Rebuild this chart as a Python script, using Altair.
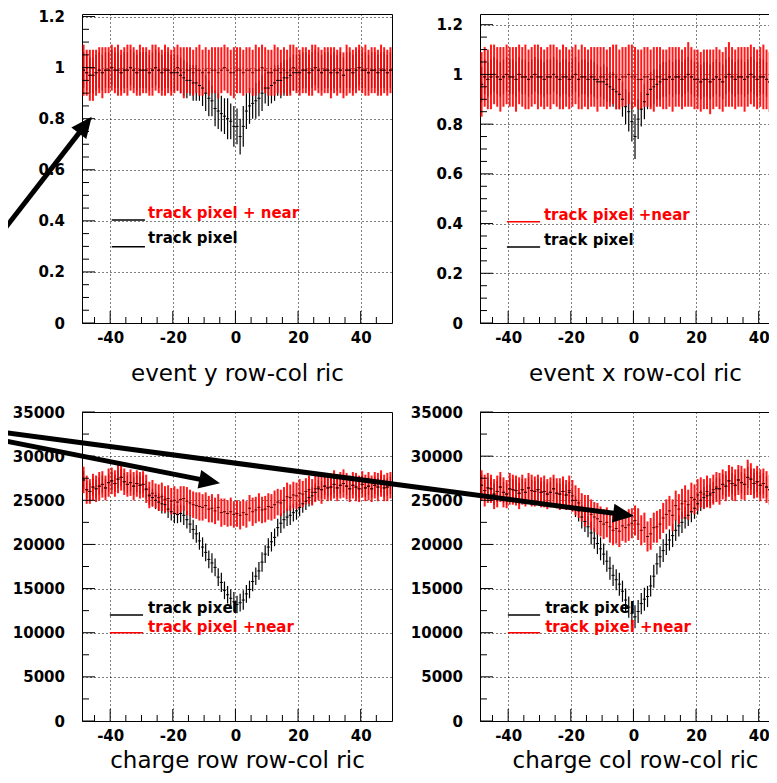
import math
import altair as alt
import pandas as pd

FONT = "DejaVu Sans"
RED = "#ff0000"
RED_TICK = "#5a0000"
BLACK = "#000000"

# ---------------- binning ----------------
X_DOMAIN = [-49, 50]
N_BINS = 99
X_CENTERS = [X_DOMAIN[0] + 0.5 + i for i in range(N_BINS)]

# ---------------- panel text / axes ----------------
TITLES = ["event y row-col ric", "event x row-col ric",
          "charge row row-col ric", "charge col row-col ric"]
Y_MAX = [1.21, 1.243, 35000, 35000]
Y_LABELS_EFF = [0, 0.2, 0.4, 0.6, 0.8, 1, 1.2]
Y_MINOR_EFF = [0.05, 0.1, 0.15, 0.25, 0.3, 0.35, 0.45, 0.5, 0.55, 0.65, 0.7,
               0.75, 0.85, 0.9, 0.95, 1.05, 1.1, 1.15]
Y_LABELS_CHG = [0, 5000, 10000, 15000, 20000, 25000, 30000, 35000]
Y_MINOR_CHG = [2500, 7500, 12500, 17500, 22500, 27500, 32500]
X_MAJOR = [-40, -20, 0, 20, 40]
X_MINOR = [-45, -35, -30, -25, -15, -10, -5, 5, 10, 15, 25, 30, 35, 45]

# ---------------- data: event y (top left) ----------------
TL_RED = [
    0.99, 0.98, 0.97, 0.97, 0.98, 0.99, 0.98, 0.99, 0.99, 1.00,
    0.99, 0.99, 0.98, 0.99, 0.99, 1.00, 0.99, 0.98, 0.99, 0.99,
    0.99, 0.98, 0.99, 1.00, 0.99, 0.98, 0.99, 0.99, 0.98, 0.99,
    1.00, 0.99, 0.98, 0.99, 0.99, 0.98, 0.99, 0.99, 0.98, 0.99,
    0.98, 0.99, 0.99, 0.98, 0.99, 1.00, 0.99, 0.98, 0.98, 0.99,
    0.99, 0.98, 0.99, 0.99, 0.98, 0.99, 0.99, 1.00, 0.99, 0.98,
    0.98, 0.99, 0.99, 0.98, 0.99, 0.98, 0.99, 1.00, 0.99, 0.98,
    0.99, 0.99, 0.98, 0.99, 1.00, 0.99, 0.98, 0.99, 0.99, 0.98,
    0.99, 0.98, 0.99, 0.97, 0.99, 0.99, 0.98, 0.99, 1.00, 0.99,
    0.99, 0.98, 0.99, 0.99, 0.98, 0.99, 0.99, 0.98, 0.99]
TL_RED_ERR = [
    0.10, 0.09, 0.10, 0.10, 0.09, 0.09, 0.10, 0.09, 0.09, 0.09,
    0.09, 0.10, 0.09, 0.09, 0.10, 0.09, 0.09, 0.09, 0.10, 0.09,
    0.09, 0.09, 0.10, 0.09, 0.09, 0.09, 0.10, 0.09, 0.09, 0.09,
    0.09, 0.09, 0.10, 0.09, 0.09, 0.09, 0.09, 0.10, 0.09, 0.09,
    0.09, 0.09, 0.09, 0.10, 0.09, 0.09, 0.09, 0.09, 0.10, 0.09,
    0.09, 0.09, 0.09, 0.09, 0.09, 0.10, 0.09, 0.09, 0.09, 0.09,
    0.09, 0.10, 0.09, 0.09, 0.09, 0.09, 0.10, 0.09, 0.09, 0.09,
    0.09, 0.09, 0.09, 0.10, 0.09, 0.09, 0.09, 0.09, 0.09, 0.10,
    0.09, 0.09, 0.09, 0.09, 0.10, 0.09, 0.09, 0.09, 0.09, 0.09,
    0.10, 0.09, 0.09, 0.09, 0.09, 0.10, 0.09, 0.09, 0.09]
TL_BLACK = [
    0.99, 0.98, 0.97, 0.97, 0.98, 0.99, 0.98, 0.99, 0.99, 1.00,
    0.99, 0.99, 0.98, 0.99, 0.99, 1.00, 0.99, 0.98, 0.99, 0.99,
    0.99, 0.98, 0.99, 1.00, 0.99, 0.98, 0.99, 0.99, 0.98, 0.98,
    0.98, 0.97, 0.96, 0.95, 0.95, 0.94, 0.94, 0.93, 0.92, 0.90,
    0.88, 0.87, 0.84, 0.83, 0.82, 0.81, 0.80, 0.79, 0.77, 0.77,
    0.73, 0.77, 0.83, 0.85, 0.86, 0.87, 0.88, 0.90, 0.92, 0.92,
    0.93, 0.94, 0.95, 0.95, 0.96, 0.96, 0.97, 0.98, 0.98, 0.98,
    0.99, 0.99, 0.98, 0.99, 1.00, 0.99, 0.98, 0.99, 0.99, 0.98,
    0.99, 0.98, 0.99, 0.97, 0.99, 0.99, 0.98, 0.99, 1.00, 0.99,
    0.99, 0.98, 0.99, 0.99, 0.98, 0.99, 0.99, 0.98, 0.99]
TL_BLACK_ERR = [
    0.07, 0.07, 0.07, 0.07, 0.07, 0.07, 0.07, 0.07, 0.07, 0.07,
    0.07, 0.07, 0.07, 0.07, 0.07, 0.07, 0.07, 0.07, 0.07, 0.07,
    0.07, 0.07, 0.07, 0.07, 0.07, 0.07, 0.07, 0.07, 0.07, 0.07,
    0.07, 0.07, 0.07, 0.07, 0.06, 0.07, 0.07, 0.06, 0.07, 0.07,
    0.07, 0.06, 0.07, 0.07, 0.07, 0.07, 0.08, 0.07, 0.08, 0.07,
    0.07, 0.08, 0.07, 0.07, 0.06, 0.07, 0.07, 0.07, 0.06, 0.07,
    0.07, 0.07, 0.06, 0.07, 0.07, 0.07, 0.07, 0.07, 0.07, 0.07,
    0.07, 0.07, 0.07, 0.07, 0.07, 0.07, 0.07, 0.07, 0.07, 0.07,
    0.07, 0.07, 0.07, 0.07, 0.07, 0.07, 0.07, 0.07, 0.07, 0.07,
    0.07, 0.07, 0.07, 0.07, 0.07, 0.07, 0.07, 0.07, 0.07]

# ---------------- data: event x (top right) ----------------
TR_RED = [
    0.96, 0.99, 0.98, 0.99, 1.00, 0.99, 0.98, 0.99, 1.00, 0.99,
    0.99, 0.98, 1.00, 0.99, 0.99, 0.98, 0.99, 1.00, 0.99, 0.99,
    0.98, 0.99, 0.99, 1.00, 0.99, 0.98, 0.99, 0.99, 0.98, 0.99,
    1.00, 0.98, 0.99, 0.99, 0.98, 0.99, 0.99, 0.98, 0.99, 0.99,
    0.98, 0.99, 1.00, 0.99, 0.98, 0.99, 0.99, 1.00, 0.99, 0.99,
    0.98, 0.98, 0.99, 0.99, 0.98, 0.98, 0.99, 0.99, 0.98, 0.98,
    0.99, 0.98, 0.99, 0.99, 0.98, 0.99, 1.00, 0.99, 0.98, 0.98,
    0.97, 0.98, 0.98, 0.97, 0.98, 0.99, 0.98, 0.97, 0.99, 1.00,
    0.99, 0.98, 0.99, 0.99, 0.98, 0.99, 1.00, 0.99, 0.98, 0.99,
    0.99, 0.98, 0.97, 0.99, 0.98, 0.99, 0.98, 0.99, 0.98]
TR_RED_ERR = [
    0.13, 0.12, 0.12, 0.13, 0.12, 0.12, 0.13, 0.12, 0.12, 0.12,
    0.12, 0.13, 0.12, 0.12, 0.13, 0.12, 0.12, 0.12, 0.13, 0.12,
    0.12, 0.12, 0.13, 0.12, 0.12, 0.12, 0.13, 0.12, 0.12, 0.12,
    0.12, 0.12, 0.13, 0.12, 0.12, 0.12, 0.12, 0.13, 0.12, 0.12,
    0.12, 0.12, 0.12, 0.13, 0.12, 0.12, 0.12, 0.12, 0.13, 0.12,
    0.12, 0.12, 0.12, 0.12, 0.12, 0.13, 0.12, 0.12, 0.12, 0.12,
    0.12, 0.13, 0.12, 0.12, 0.12, 0.12, 0.13, 0.12, 0.12, 0.12,
    0.12, 0.12, 0.12, 0.13, 0.12, 0.12, 0.12, 0.12, 0.12, 0.13,
    0.12, 0.12, 0.12, 0.12, 0.13, 0.12, 0.12, 0.12, 0.12, 0.12,
    0.13, 0.12, 0.12, 0.12, 0.12, 0.13, 0.12, 0.12, 0.12]
TR_BLACK = [
    0.96, 0.99, 0.98, 0.99, 1.00, 0.99, 0.98, 0.99, 1.00, 0.99,
    0.99, 0.98, 1.00, 0.99, 0.99, 0.98, 0.99, 1.00, 0.99, 0.99,
    0.98, 0.99, 0.99, 1.00, 0.99, 0.98, 0.99, 0.99, 0.98, 0.99,
    1.00, 0.98, 0.99, 0.99, 0.98, 0.99, 0.98, 0.97, 0.97, 0.97,
    0.96, 0.95, 0.94, 0.93, 0.92, 0.90, 0.87, 0.85, 0.81, 0.75,
    0.82, 0.86, 0.89, 0.92, 0.94, 0.95, 0.96, 0.97, 0.98, 0.98,
    0.99, 0.98, 0.99, 0.99, 0.98, 0.99, 1.00, 0.99, 0.98, 0.98,
    0.97, 0.98, 0.98, 0.97, 0.98, 0.99, 0.98, 0.97, 0.99, 1.00,
    0.99, 0.98, 0.99, 0.99, 0.98, 0.99, 1.00, 0.99, 0.98, 0.99,
    0.99, 0.98, 0.97, 0.99, 0.98, 0.99, 0.98, 0.99, 0.98]
TR_BLACK_ERR = [
    0.07, 0.07, 0.07, 0.07, 0.07, 0.07, 0.07, 0.07, 0.07, 0.07,
    0.07, 0.07, 0.07, 0.07, 0.07, 0.07, 0.07, 0.07, 0.07, 0.07,
    0.07, 0.07, 0.07, 0.07, 0.07, 0.07, 0.07, 0.07, 0.07, 0.07,
    0.07, 0.07, 0.07, 0.07, 0.07, 0.07, 0.07, 0.07, 0.06, 0.07,
    0.07, 0.06, 0.07, 0.07, 0.06, 0.07, 0.07, 0.08, 0.08, 0.09,
    0.08, 0.07, 0.07, 0.06, 0.07, 0.07, 0.06, 0.07, 0.07, 0.07,
    0.07, 0.07, 0.07, 0.07, 0.07, 0.07, 0.07, 0.07, 0.07, 0.07,
    0.07, 0.07, 0.07, 0.07, 0.07, 0.07, 0.07, 0.07, 0.07, 0.07,
    0.07, 0.07, 0.07, 0.07, 0.07, 0.07, 0.07, 0.07, 0.07, 0.07,
    0.07, 0.07, 0.07, 0.07, 0.07, 0.07, 0.07, 0.07, 0.07]

# ---------------- data: charge row (bottom left) ----------------
BL_RED = [
    27300, 26200, 26000, 26500, 26300, 26600, 26800, 26400, 27000, 27200,
    26900, 27400, 27600, 27100, 26800, 27000, 26600, 26900, 26700, 26800,
    26300, 25600, 25800, 25500, 25300, 25400, 25100, 25200, 24900, 25000,
    24800, 25100, 25200, 24900, 24700, 24500, 24400, 24300, 24200, 24400,
    24000, 24100, 23800, 24200, 23600, 23700, 23500, 23700, 23400, 23500,
    23300, 23600, 23400, 24100, 23700, 23900, 24200, 23900, 24000, 24300,
    24200, 24500, 24800, 24700, 25000, 25400, 25300, 25600, 25500, 25800,
    25700, 26000, 26200, 25900, 26300, 26500, 26200, 26600, 26400, 26500,
    26800, 26400, 26700, 26900, 26600, 26300, 26700, 26500, 26300, 26800,
    26400, 26600, 26300, 26700, 26500, 26900, 26400, 26500, 26700]
BL_RED_ERR = [
    1500, 1600, 1400, 1500, 1500, 1600, 1500, 1400, 1600, 1500,
    1500, 1600, 1500, 1500, 1400, 1500, 1600, 1500, 1500, 1500,
    1600, 1500, 1500, 1400, 1500, 1600, 1500, 1500, 1500, 1600,
    1500, 1500, 1400, 1600, 1500, 1500, 1500, 1600, 1500, 1500,
    1500, 1600, 1500, 1500, 1600, 1500, 1500, 1600, 1500, 1500,
    1600, 1500, 1500, 1500, 1600, 1500, 1600, 1500, 1500, 1500,
    1500, 1600, 1500, 1500, 1500, 1600, 1500, 1500, 1500, 1600,
    1500, 1500, 1600, 1500, 1500, 1500, 1600, 1500, 1500, 1500,
    1600, 1500, 1500, 1600, 1500, 1500, 1500, 1600, 1500, 1500,
    1500, 1600, 1500, 1500, 1600, 1500, 1500, 1600, 1500]
BL_BLACK = [
    27300, 26200, 26000, 26500, 26300, 26600, 26800, 26400, 27000, 27200,
    26900, 27400, 27600, 27100, 26800, 27000, 26600, 26900, 26700, 26800,
    26200, 25500, 25300, 25000, 24800, 24600, 24500, 24000, 23700, 23500,
    23400, 23500, 23300, 22800, 22300, 21700, 21200, 20400, 19700, 19100,
    18300, 17900, 17400, 16300, 15700, 14800, 14300, 13900, 13500, 13200,
    13400, 13700, 14400, 14900, 15800, 16400, 17000, 18000, 18900, 19700,
    20300, 20800, 21900, 22400, 22800, 23100, 23300, 23600, 23800, 24200,
    24600, 24900, 25300, 25500, 25900, 26300, 26200, 26600, 26400, 26500,
    26800, 26400, 26700, 26900, 26600, 26300, 26700, 26500, 26300, 26800,
    26400, 26600, 26300, 26700, 26500, 26900, 26400, 26500, 26700]
BL_BLACK_ERR = [
    1000, 1000, 1000, 1000, 1000, 1000, 1000, 1000, 1000, 1000,
    1000, 1000, 1000, 1000, 1000, 1000, 1000, 1000, 1000, 1000,
    1000, 1000, 1000, 1000, 1000, 1100, 1000, 1000, 1000, 1100,
    1000, 1000, 1100, 1000, 1000, 1100, 1000, 1000, 1100, 1000,
    1000, 1100, 1000, 1000, 1100, 1000, 1000, 1000, 1100, 1000,
    1000, 1100, 1000, 1000, 1100, 1000, 1000, 1100, 1000, 1000,
    1100, 1000, 1000, 1100, 1000, 1000, 1100, 1000, 1000, 1000,
    1000, 1000, 1000, 1000, 1000, 1000, 1000, 1000, 1000, 1000,
    1000, 1000, 1000, 1000, 1000, 1000, 1000, 1000, 1000, 1000,
    1000, 1000, 1000, 1000, 1000, 1000, 1000, 1000, 1000]

# ---------------- data: charge col (bottom right) ----------------
BR_RED = [
    26700, 26100, 26400, 26300, 25700, 26000, 26500, 25900, 25700, 26300,
    26200, 26100, 25800, 26200, 25900, 26400, 26100, 26000, 26200, 25900,
    26000, 25700, 25900, 26300, 25800, 25700, 26000, 25600, 26100, 25500,
    25000, 24700, 24200, 23800, 23900, 23400, 23100, 22900, 22600, 22300,
    22500, 22000, 21600, 21800, 21500, 22100, 21900, 22200, 22400, 22700,
    22300, 21600, 21900, 20900, 21200, 21900, 22000, 22300, 23000, 23400,
    23800, 23300, 24400, 24000, 24600, 24900, 24500, 25300, 25100, 25600,
    25900, 25700, 26000, 25800, 26200, 26500, 26300, 26800, 26600, 27200,
    26900, 26700, 27300, 27000, 26800, 27600, 27400, 26900, 27100, 26700,
    26900, 26500, 26200, 26100, 26600, 26300, 26800, 26400, 26500]
BR_RED_ERR = [
    1700, 1800, 1700, 1600, 1700, 1800, 1700, 1700, 1600, 1800,
    1700, 1700, 1800, 1700, 1600, 1700, 1800, 1700, 1700, 1700,
    1800, 1700, 1700, 1600, 1700, 1800, 1700, 1700, 1700, 1800,
    1700, 1700, 1600, 1800, 1700, 1700, 1700, 1800, 1700, 1700,
    1700, 1800, 1700, 1700, 1800, 1700, 1700, 1800, 1700, 1700,
    1800, 1700, 1700, 1700, 1800, 1700, 1800, 1700, 1700, 1700,
    1700, 1800, 1700, 1700, 1700, 1800, 1700, 1700, 1700, 1800,
    1700, 1700, 1800, 1700, 1700, 1700, 1800, 1700, 1700, 1800,
    1900, 1800, 1700, 1900, 1800, 2000, 1800, 1700, 1800, 1800,
    1700, 1800, 1700, 1700, 1800, 1700, 1700, 1800, 1700]
BR_BLACK = [
    26700, 26100, 26400, 26300, 25700, 26000, 26500, 25900, 25700, 26300,
    26200, 26100, 25800, 26200, 25900, 26400, 26100, 26000, 26200, 25900,
    26000, 25700, 25900, 26300, 25800, 25700, 26000, 25600, 25900, 25000,
    24300, 23800, 23100, 22600, 22000, 21300, 20700, 20100, 19500, 18900,
    18100, 17300, 16500, 16000, 15500, 14700, 13700, 12900, 12200, 11800,
    12400, 13300, 13800, 14100, 15300, 16400, 17800, 18600, 19300, 20000,
    20500, 21000, 21600, 22100, 22500, 23000, 23300, 23700, 24100, 24600,
    25000, 25300, 25500, 25600, 25900, 26300, 26300, 26800, 26600, 27200,
    26900, 26700, 27300, 27000, 26800, 27600, 27400, 26900, 27100, 26700,
    26900, 26500, 26200, 26100, 26600, 26300, 26800, 26400, 26500]
BR_BLACK_ERR = [
    1200, 1200, 1200, 1200, 1200, 1200, 1200, 1200, 1200, 1200,
    1200, 1200, 1200, 1200, 1200, 1200, 1200, 1200, 1200, 1200,
    1200, 1200, 1200, 1200, 1200, 1200, 1200, 1200, 1200, 1200,
    1200, 1200, 1300, 1200, 1200, 1300, 1200, 1200, 1300, 1200,
    1200, 1300, 1200, 1200, 1300, 1200, 1300, 1200, 1300, 1300,
    1300, 1200, 1300, 1200, 1200, 1300, 1200, 1200, 1300, 1200,
    1200, 1300, 1200, 1200, 1200, 1200, 1200, 1200, 1200, 1200,
    1200, 1200, 1200, 1200, 1200, 1200, 1200, 1200, 1200, 1200,
    1200, 1200, 1200, 1200, 1200, 1200, 1200, 1200, 1200, 1200,
    1200, 1200, 1200, 1200, 1200, 1200, 1200, 1200, 1200]

RED_VALUES = [TL_RED, TR_RED, BL_RED, BR_RED]
RED_ERRORS = [TL_RED_ERR, TR_RED_ERR, BL_RED_ERR, BR_RED_ERR]
BLACK_VALUES = [TL_BLACK, TR_BLACK, BL_BLACK, BR_BLACK]
BLACK_ERRORS = [TL_BLACK_ERR, TR_BLACK_ERR, BL_BLACK_ERR, BR_BLACK_ERR]

# ---------------- legends (data coordinates of each panel) ----------------
LEG_LABELS = [["track pixel + near", "track pixel"],
              ["track pixel +near", "track pixel"],
              ["track pixel", "track pixel +near"],
              ["track pixel", "track pixel +near"]]
LEG_TEXT_COLORS = [[RED, BLACK], [RED, BLACK], [BLACK, RED], [BLACK, RED]]
LEG_LINE_COLORS = [[BLACK, BLACK], [RED, BLACK], [BLACK, RED], [BLACK, RED]]
LEG_LINE_Y = [[0.403, 0.299], [0.407, 0.306], [12000, 10000], [12000, 10000]]
LEG_TEXT_Y = [[0.431, 0.333], [0.434, 0.334], [12800, 10680], [12800, 10680]]
LEG_LINE_X = [[-39.5, -28.9], [-40.4, -29.8], [-40.1, -29.5], [-40.1, -29.8]]
LEG_TEXT_X = [-27.9, -28.6, -27.9, -28.2]

# ---------------- annotation arrows (start x, start y, tip x, tip y) ----------------
ARROWS = [[(-75.2, 0.345, -45.9, 0.808)],
          [],
          [(-75.2, 31830, -4.93, 26920)],
          [(-202.3, 32740, 0.18, 23220)]]

W, H = 310, 309
TITLE_PAD = [14.0, 14.0, 3.5, 3.5]
HEAD_PATH = "M0,0L-0.9,2L0.9,2Z"
HEAD_SIZE = 441


def make_panel(p):
    ymax = Y_MAX[p]
    top = p < 2
    y_labels = Y_LABELS_EFF if top else Y_LABELS_CHG
    y_minor = Y_MINOR_EFF if top else Y_MINOR_CHG

    xs = alt.Scale(domain=X_DOMAIN, nice=False, zero=False)
    ys = alt.Scale(domain=[0, ymax], nice=False, zero=False)
    xa = alt.Axis(values=X_MAJOR, labelExpr="datum.value + ''", title=TITLES[p],
                  grid=True, ticks=False, domain=False, labelFlush=False,
                  labelOverlap=False, labelFont=FONT, labelFontSize=15,
                  labelFontWeight="bold", labelColor="black", labelPadding=7,
                  gridColor="black", gridDash=[1, 3], gridOpacity=1, gridWidth=1,
                  titleFont=FONT, titleFontSize=23, titleFontWeight="normal",
                  titleColor="black", titlePadding=TITLE_PAD[p],
                  minExtent=25, maxExtent=25)
    ya = alt.Axis(values=y_labels, labelExpr="datum.value + ''", title=None,
                  grid=True, ticks=False, domain=False, labelOverlap=False,
                  labelFont=FONT, labelFontSize=15, labelFontWeight="bold",
                  labelColor="black", labelPadding=17.5, labelBound=False,
                  gridColor="black", gridDash=[1, 3], gridOpacity=1, gridWidth=1)

    def X(f):
        return alt.X(f, type="quantitative", scale=xs, axis=xa)

    def Y(f):
        return alt.Y(f, type="quantitative", scale=ys, axis=ya)

    red = RED_VALUES[p]
    rerr = RED_ERRORS[p]
    blk = BLACK_VALUES[p]
    berr = BLACK_ERRORS[p]
    hist = pd.DataFrame({
        "x": X_CENTERS,
        "x0": [c - 0.5 for c in X_CENTERS],
        "x1": [c + 0.5 for c in X_CENTERS],
        "red": red,
        "red_lo": [v - e for v, e in zip(red, rerr)],
        "red_hi": [v + e for v, e in zip(red, rerr)],
        "blk": blk,
        "blk_lo": [v - e for v, e in zip(blk, berr)],
        "blk_hi": [v + e for v, e in zip(blk, berr)],
    })
    base = alt.Chart(hist)
    layers = [
        base.mark_rule(color=BLACK, strokeWidth=1.2).encode(
            x=X("x"), y=Y("blk_lo"), y2="blk_hi"),
        base.mark_rule(color=RED, strokeWidth=2, opacity=0.9).encode(
            x=X("x"), y=Y("red_lo"), y2="red_hi"),
        base.mark_rule(color=BLACK, strokeWidth=1).encode(
            x=X("x0"), x2="x1", y=Y("blk")),
        base.mark_rule(color=RED_TICK, strokeWidth=1).encode(
            x=X("x0"), x2="x1", y=Y("red")),
    ]

    # inward axis ticks (ROOT style)
    ymaj = alt.Chart(pd.DataFrame({"v": y_labels}))
    ymin = alt.Chart(pd.DataFrame({"v": y_minor}))
    xmaj = alt.Chart(pd.DataFrame({"v": X_MAJOR}))
    xmin = alt.Chart(pd.DataFrame({"v": X_MINOR}))
    layers += [
        ymaj.mark_rule(color=BLACK, strokeWidth=1).encode(
            y=Y("v"), x=alt.value(0), x2=alt.value(13)),
        ymin.mark_rule(color=BLACK, strokeWidth=1).encode(
            y=Y("v"), x=alt.value(0), x2=alt.value(7)),
        xmaj.mark_rule(color=BLACK, strokeWidth=1).encode(
            x=X("v"), y=alt.value(H), y2=alt.value(H - 12)),
        xmin.mark_rule(color=BLACK, strokeWidth=1).encode(
            x=X("v"), y=alt.value(H), y2=alt.value(H - 6)),
    ]

    # legend
    leg = pd.DataFrame({
        "label": LEG_LABELS[p],
        "tc": LEG_TEXT_COLORS[p],
        "lc": LEG_LINE_COLORS[p],
        "ly": LEG_LINE_Y[p],
        "ty": LEG_TEXT_Y[p],
        "lx0": [LEG_LINE_X[p][0]] * 2,
        "lx1": [LEG_LINE_X[p][1]] * 2,
        "tx": [LEG_TEXT_X[p]] * 2,
    })
    lb = alt.Chart(leg)
    layers += [
        lb.mark_rule(strokeWidth=1.5).encode(
            x=X("lx0"), x2="lx1", y=Y("ly"), color=alt.Color("lc:N", scale=None)),
        lb.mark_text(align="left", baseline="middle", font=FONT, fontSize=15,
                     fontWeight="bold").encode(
            x=X("tx"), y=Y("ty"), text="label:N", color=alt.Color("tc:N", scale=None)),
    ]

    # arrows
    if ARROWS[p]:
        px_x = W / (X_DOMAIN[1] - X_DOMAIN[0])
        px_y = H / ymax
        rows = []
        for (x0, y0, x1, y1) in ARROWS[p]:
            dx = (x1 - x0) * px_x
            dy = -(y1 - y0) * px_y
            L = math.hypot(dx, dy)
            ux, uy = dx / L, dy / L
            back = 0.6 * math.sqrt(HEAD_SIZE)
            rows.append({"x0": x0, "y0": y0,
                         "xe": x1 - ux * back / px_x, "ye": y1 + uy * back / px_y,
                         "xt": x1, "yt": y1,
                         "ang": math.degrees(math.atan2(dx, -dy)) % 360})
        ab = alt.Chart(pd.DataFrame(rows))
        layers += [
            ab.mark_rule(color=BLACK, strokeWidth=5, strokeCap="butt").encode(
                x=X("x0"), y=Y("y0"), x2="xe", y2="ye"),
            ab.mark_point(shape=HEAD_PATH, size=HEAD_SIZE, filled=True,
                          color=BLACK, opacity=1, strokeWidth=0).encode(
                x=X("xt"), y=Y("yt"), angle=alt.Angle("ang:Q", scale=None)),
        ]

    return alt.layer(*layers).properties(width=W, height=H)


panels = [make_panel(p) for p in range(4)]
# fixed page geometry: plots at (82,14) and (480,14) / (82,412) and (480,412);
# the svg is 761 x 767 so the page never overflows; the right column is cut.
chart = alt.concat(*panels, columns=2, spacing={"row": 89, "column": 88},
                   bounds="flush").properties(
    autosize="none",
    padding={"left": 74, "top": 6, "right": 687, "bottom": 761}
).configure_view(stroke="black", strokeWidth=1)

chart.save("out.html", embed_options={"renderer": "svg", "actions": False})
